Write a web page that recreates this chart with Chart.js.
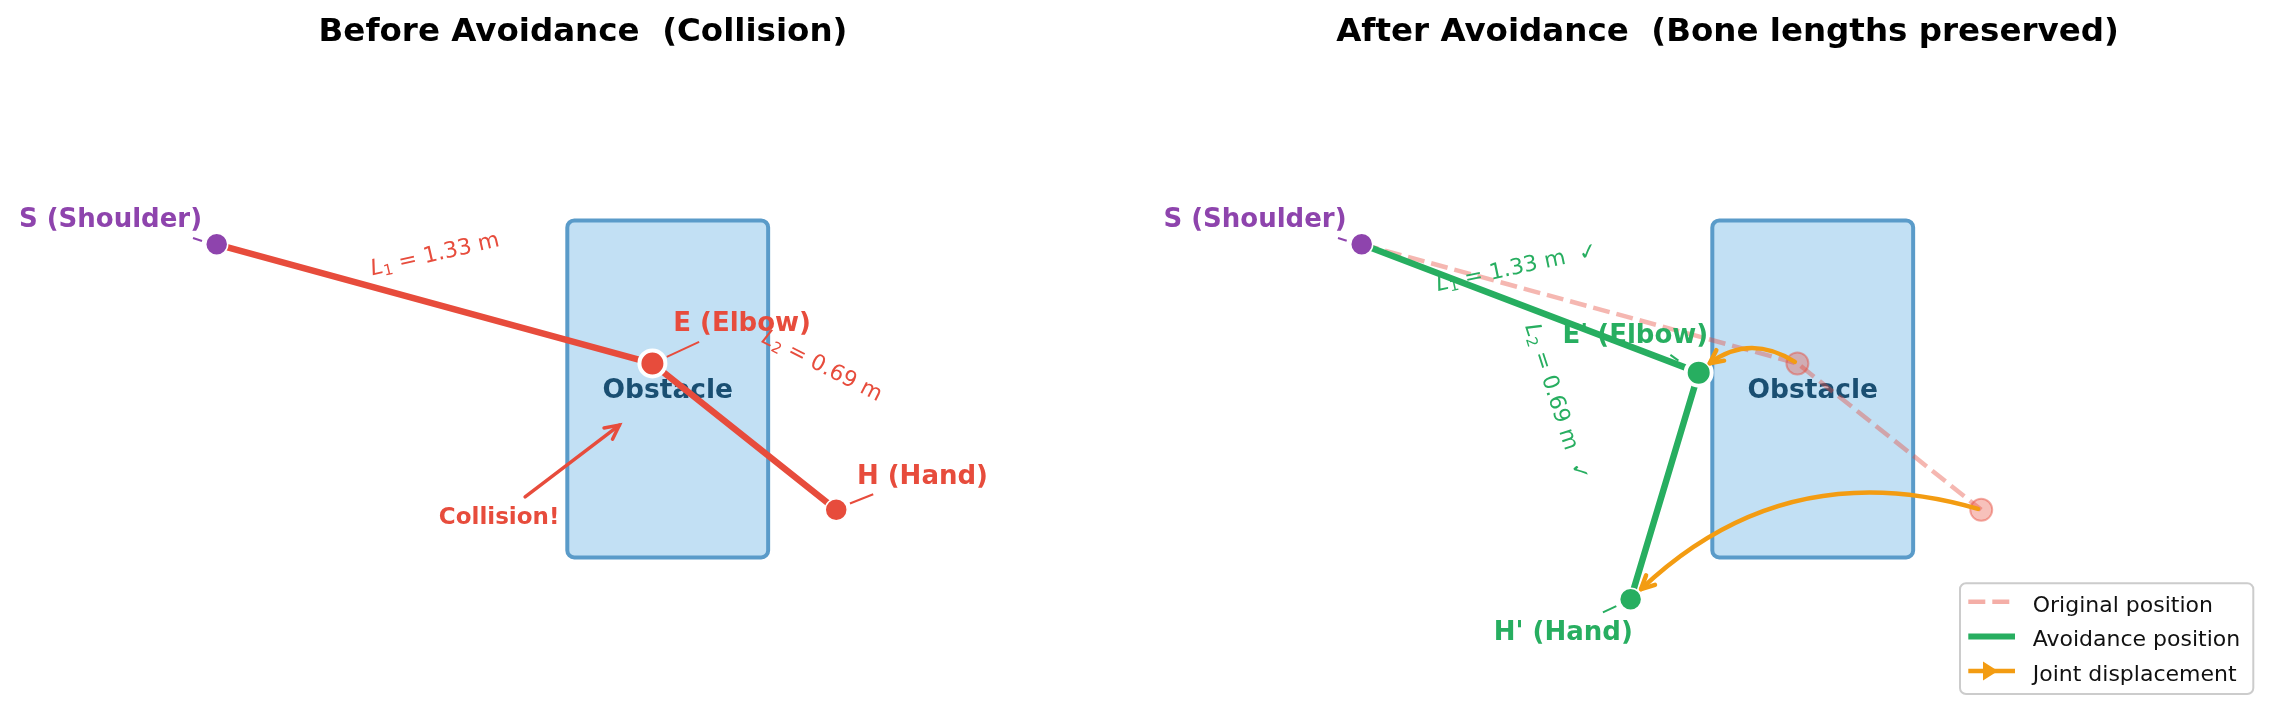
<!DOCTYPE html>
<html>
<head>
<meta charset="utf-8">
<title>Obstacle avoidance - bone lengths</title>
<script src="https://cdn.jsdelivr.net/npm/chart.js@4.4.0/dist/chart.umd.min.js"></script>
<style>
  html, body { margin: 0; padding: 0; background: #fff; }
  body { width: 2282px; height: 722px; position: relative; overflow: hidden; }
  canvas { position: absolute; top: 0; }
  #before { left: 0; }
  #after { left: 1145px; }
</style>
</head>
<body>
<canvas id="before" width="1145" height="722"></canvas>
<canvas id="after" width="1137" height="722"></canvas>
<script>
// ---- data (metres) ----
const titles = ['Before Avoidance  (Collision)', 'After Avoidance  (Bone lengths preserved)'];
const jointNames = ['S (Shoulder)', 'E (Elbow)', 'H (Hand)'];
const avoidNames = ['S (Shoulder)', "E' (Elbow)", "H' (Hand)"];
// original arm pose (shoulder at origin)
const beforeX = [0, 1.28, 1.82];
const beforeY = [0, -0.35, -0.78];
// pose after avoidance
const afterX = [0, 0.99, 0.79];
const afterY = [0, -0.377, -1.043];
const boneLengths = [1.33, 0.69];
// obstacle box
const obstacleX = [1.03, 1.62];
const obstacleY = [-0.92, 0.07];
const legendLabels = ['Original position', 'Avoidance position', 'Joint displacement'];

// ---- style ----
const FONT = '"DejaVu Sans", "Liberation Sans", sans-serif';
const RED = '#e74c3c', GREEN = '#27ae60', PURPLE = '#8e44ad', ORANGE = '#f39c12';
const PX_PER_M = 340.4;                 // same on both axes (equal aspect)
const ORIGIN = { x: 216.7, y: 244.3 };  // canvas px of the shoulder

const pts = (xs, ys) => xs.map((x, i) => ({ x, y: ys[i] }));

function drawBoneLabel(ctx, x, y, deg, n, value, color, check) {
  const parts = [
    { t: 'L', f: 'italic 22px ' + FONT, dy: 0 },
    { t: String(n), f: '15px ' + FONT, dy: 5 },
    { t: ' = ' + value.toFixed(2) + ' m' + (check ? '  \u2713' : ''), f: '22px ' + FONT, dy: 0 }
  ];
  ctx.save();
  ctx.translate(x, y);
  ctx.rotate(deg * Math.PI / 180);
  let w = 0;
  parts.forEach(p => { ctx.font = p.f; p.w = ctx.measureText(p.t).width; w += p.w; });
  let cx = -w / 2;
  ctx.fillStyle = color;
  ctx.textAlign = 'left';
  ctx.textBaseline = 'middle';
  parts.forEach(p => { ctx.font = p.f; ctx.fillText(p.t, cx, p.dy); cx += p.w; });
  ctx.restore();
}

function drawHead(ctx, tip, from, len, half) {
  const a = Math.atan2(tip.y - from.y, tip.x - from.x);
  const bx = tip.x - len * Math.cos(a), by = tip.y - len * Math.sin(a);
  const nx = -Math.sin(a) * half, ny = Math.cos(a) * half;
  ctx.beginPath();
  ctx.moveTo(bx + nx, by + ny);
  ctx.lineTo(tip.x, tip.y);
  ctx.lineTo(bx - nx, by - ny);
  ctx.stroke();
}

// curved arrow like matplotlib arc3,rad=...
function drawArc(ctx, p0, p2, rad) {
  const dx = p2.x - p0.x, dy = p2.y - p0.y;
  const c = { x: (p0.x + p2.x) / 2 - rad * dy, y: (p0.y + p2.y) / 2 + rad * dx };
  const at = t => {
    const u = 1 - t;
    return { x: u * u * p0.x + 2 * u * t * c.x + t * t * p2.x, y: u * u * p0.y + 2 * u * t * c.y + t * t * p2.y };
  };
  let t0 = 0, t1 = 1;
  for (let t = 0; t <= 1; t += 0.001) { const q = at(t); if (Math.hypot(q.x - p0.x, q.y - p0.y) >= 3) { t0 = t; break; } }
  for (let t = 1; t >= 0; t -= 0.001) { const q = at(t); if (Math.hypot(q.x - p2.x, q.y - p2.y) >= 14.5) { t1 = t; break; } }
  const a = at(t0), b = at(t1);
  const q = {
    x: (1 - t0) * (1 - t1) * p0.x + ((1 - t0) * t1 + t0 * (1 - t1)) * c.x + t0 * t1 * p2.x,
    y: (1 - t0) * (1 - t1) * p0.y + ((1 - t0) * t1 + t0 * (1 - t1)) * c.y + t0 * t1 * p2.y
  };
  ctx.save();
  ctx.strokeStyle = ORANGE;
  ctx.lineWidth = 4.5;
  ctx.lineCap = 'round';
  ctx.lineJoin = 'round';
  ctx.beginPath();
  ctx.moveTo(a.x, a.y);
  ctx.quadraticCurveTo(q.x, q.y, b.x, b.y);
  ctx.stroke();
  drawHead(ctx, b, q, 13, 6.5);
  ctx.restore();
}

function drawLegend(ctx, ca) {
  const right = ca.right - 28.7, bottom = ca.bottom - 28;
  const w = 293.3, h = 110.7, left = right - w, top = bottom - h;
  ctx.save();
  ctx.beginPath();
  ctx.roundRect(left, top, w, h, 6);
  ctx.fillStyle = 'rgba(255,255,255,0.85)';
  ctx.fill();
  ctx.lineWidth = 2;
  ctx.strokeStyle = '#cccccc';
  ctx.stroke();
  legendLabels.forEach((lab, i) => {
    const y = top + 18.5 + i * 34.6;
    const x0 = left + 8.3, x1 = left + 55;
    ctx.beginPath();
    ctx.moveTo(x0, y);
    ctx.lineTo(x1, y);
    if (i === 0) {
      ctx.strokeStyle = 'rgba(231,76,60,0.45)'; ctx.lineWidth = 4.5; ctx.setLineDash([17, 7]);
    } else if (i === 1) {
      ctx.strokeStyle = GREEN; ctx.lineWidth = 6; ctx.setLineDash([]);
    } else {
      ctx.strokeStyle = ORANGE; ctx.lineWidth = 4.5; ctx.setLineDash([]);
    }
    ctx.stroke();
    ctx.setLineDash([]);
    if (i === 2) {
      ctx.beginPath();
      ctx.moveTo(left + 23, y - 9.5);
      ctx.lineTo(left + 38, y);
      ctx.lineTo(left + 23, y + 9.5);
      ctx.closePath();
      ctx.fillStyle = ORANGE;
      ctx.fill();
    }
    ctx.font = '22px ' + FONT;
    ctx.fillStyle = '#111';
    ctx.textAlign = 'left';
    ctx.textBaseline = 'alphabetic';
    ctx.fillText(lab, left + 72.7, y + 10);
  });
  ctx.restore();
}

function decor(cfg) {
  return {
    id: 'armDecor',
    beforeDatasetsDraw(chart) {
      const ctx = chart.ctx, sx = chart.scales.x, sy = chart.scales.y;
      const x0 = sx.getPixelForValue(obstacleX[0]), x1 = sx.getPixelForValue(obstacleX[1]);
      const yt = sy.getPixelForValue(obstacleY[1]), yb = sy.getPixelForValue(obstacleY[0]);
      ctx.save();
      ctx.beginPath();
      ctx.roundRect(x0, yt, x1 - x0, yb - yt, 7);
      ctx.fillStyle = '#c2e0f4';
      ctx.fill();
      ctx.lineWidth = 4;
      ctx.strokeStyle = '#5a9bc9';
      ctx.stroke();
      ctx.font = 'bold 26.5px ' + FONT;
      ctx.fillStyle = '#1a4f72';
      ctx.textAlign = 'center';
      ctx.textBaseline = 'alphabetic';
      ctx.fillText('Obstacle', (x0 + x1) / 2, (yt + yb) / 2 + 9);
      ctx.restore();
    },
    afterDatasetsDraw(chart) {
      const ctx = chart.ctx;
      const J = chart.getDatasetMeta(cfg.jointSet).data;
      // bone length labels
      for (let b = 0; b < 2; b++) {
        const mx = (J[b].x + J[b + 1].x) / 2 + cfg.boneOffsets[b][0];
        const my = (J[b].y + J[b + 1].y) / 2 + cfg.boneOffsets[b][1];
        drawBoneLabel(ctx, mx, my, cfg.boneAngles[b], b + 1, boneLengths[b], cfg.boneColor, cfg.check);
      }
      // joint displacement arrows
      if (cfg.arcs) {
        const O = chart.getDatasetMeta(cfg.origSet).data;
        cfg.arcs.forEach((rad, k) => drawArc(ctx, O[k], J[k + 1], rad));
      }
      // joint labels with short leader lines
      ctx.save();
      cfg.names.forEach((name, i) => {
        const p = J[i], col = cfg.labelColors[i];
        const [c0, c1] = cfg.connectors[i];
        ctx.strokeStyle = col;
        ctx.lineWidth = 2;
        ctx.beginPath();
        ctx.moveTo(p.x + c0[0], p.y + c0[1]);
        ctx.lineTo(p.x + c1[0], p.y + c1[1]);
        ctx.stroke();
        ctx.font = 'bold 26px ' + FONT;
        ctx.fillStyle = col;
        ctx.textAlign = 'center';
        ctx.textBaseline = 'alphabetic';
        ctx.fillText(name, p.x + cfg.labelOffsets[i][0], p.y + cfg.labelOffsets[i][1]);
      });
      if (cfg.collision) {
        const E = J[1], c = cfg.collision;
        const tail = { x: E.x + c.from[0], y: E.y + c.from[1] };
        const tip = { x: E.x + c.to[0], y: E.y + c.to[1] };
        ctx.strokeStyle = RED;
        ctx.lineWidth = 3.5;
        ctx.lineCap = 'round';
        ctx.beginPath();
        ctx.moveTo(tail.x, tail.y);
        ctx.lineTo(tip.x, tip.y);
        ctx.stroke();
        drawHead(ctx, tip, tail, 14, 7);
        ctx.font = 'bold 23px ' + FONT;
        ctx.fillStyle = RED;
        ctx.textAlign = 'center';
        ctx.fillText('Collision!', E.x + c.text[0], E.y + c.text[1]);
      }
      ctx.restore();
      if (cfg.legend) drawLegend(ctx, chart.chartArea);
    }
  };
}

function makeChart(id, datasets, cfg, title, padLeft) {
  const chart = new Chart(document.getElementById(id), {
    type: 'scatter',
    data: { datasets },
    options: {
      responsive: false,
      animation: false,
      events: [],
      layout: { autoPadding: false, padding: { left: padLeft, right: 0, top: 0, bottom: 0 } },
      scales: {
        x: { type: 'linear', display: false, bounds: 'data', min: 0, max: 1 },
        y: { type: 'linear', display: false, bounds: 'data', min: 0, max: 1 }
      },
      plugins: {
        legend: { display: false },
        tooltip: { enabled: false },
        title: {
          display: true,
          text: title,
          color: '#000',
          font: { family: FONT, size: 32.5, weight: 'bold' },
          padding: { top: 13, bottom: 10 }
        }
      }
    },
    plugins: [decor(cfg)]
  });
  // equal aspect: fixed px per metre, shoulder at ORIGIN
  const ca = chart.chartArea;
  chart.options.scales.x.min = (ca.left - ORIGIN.x) / PX_PER_M;
  chart.options.scales.x.max = (ca.right - ORIGIN.x) / PX_PER_M;
  chart.options.scales.y.min = (ORIGIN.y - ca.bottom) / PX_PER_M;
  chart.options.scales.y.max = (ORIGIN.y - ca.top) / PX_PER_M;
  chart.update('none');
  return chart;
}

// ---- left: before avoidance ----
makeChart('before', [
  {
    label: 'Joints',
    data: pts(beforeX, beforeY),
    showLine: false,
    pointRadius: [11, 13, 11],
    pointBorderWidth: [1.5, 4, 1.5],
    pointBackgroundColor: [PURPLE, RED, RED],
    pointBorderColor: '#fff',
    order: 0
  },
  {
    label: 'Arm',
    data: pts(beforeX, beforeY),
    showLine: true,
    borderColor: RED,
    borderWidth: 6.5,
    borderJoinStyle: 'round',
    pointRadius: 0,
    order: 1
  }
], {
  jointSet: 0,
  names: jointNames,
  labelColors: [PURPLE, RED, RED],
  labelOffsets: [[-106.2, -17.6], [89.7, -32.6], [86.2, -26.3]],
  connectors: [[[-23.7, -6.3], [-14.7, -3.3]], [[14.4, -6.6], [46.7, -21.6]], [[13.7, -6.3], [37, -15.6]]],
  boneColor: RED,
  check: false,
  boneOffsets: [[0.5, -48.8], [77.4, -70.1]],
  boneAngles: [-13, 27],
  collision: { text: [-153.3, 160.7], from: [-127.3, 133.4], to: [-33, 61.7] }
}, titles[0], 21);

// ---- right: after avoidance ----
makeChart('after', [
  {
    label: 'Avoidance joints',
    data: pts(afterX, afterY),
    showLine: false,
    pointRadius: [11, 13, 11],
    pointBorderWidth: [1.5, 4, 1.5],
    pointBackgroundColor: [PURPLE, GREEN, GREEN],
    pointBorderColor: '#fff',
    order: 0
  },
  {
    label: 'Original joints',
    data: pts(beforeX.slice(1), beforeY.slice(1)),
    showLine: false,
    pointRadius: 11,
    pointBorderWidth: 2,
    pointBackgroundColor: 'rgba(231,76,60,0.35)',
    pointBorderColor: 'rgba(231,76,60,0.45)',
    order: 1
  },
  {
    label: 'Avoidance position',
    data: pts(afterX, afterY),
    showLine: true,
    borderColor: GREEN,
    borderWidth: 6.5,
    borderJoinStyle: 'round',
    pointRadius: 0,
    order: 2
  },
  {
    label: 'Original position',
    data: pts(beforeX, beforeY),
    showLine: true,
    borderColor: 'rgba(231,76,60,0.4)',
    borderWidth: 4.5,
    borderDash: [17, 7],
    pointRadius: 0,
    order: 3
  }
], {
  jointSet: 0,
  origSet: 1,
  names: avoidNames,
  labelColors: [PURPLE, GREEN, GREEN],
  labelOffsets: [[-106.7, -17], [-63.3, -29.4], [-67.3, 40.7]],
  connectors: [[[-23.7, -6.3], [-15, -3.6]], [[-28.3, -17.7], [-20.3, -12]], [[-27.7, 13], [-14.3, 6.7]]],
  boneColor: GREEN,
  check: true,
  boneOffsets: [[-13.3, -40.2], [-108.9, -83.5]],
  boneAngles: [-12, 72],
  arcs: [0.4, 0.3],
  legend: true
}, titles[1], 28);
</script>
</body>
</html>
